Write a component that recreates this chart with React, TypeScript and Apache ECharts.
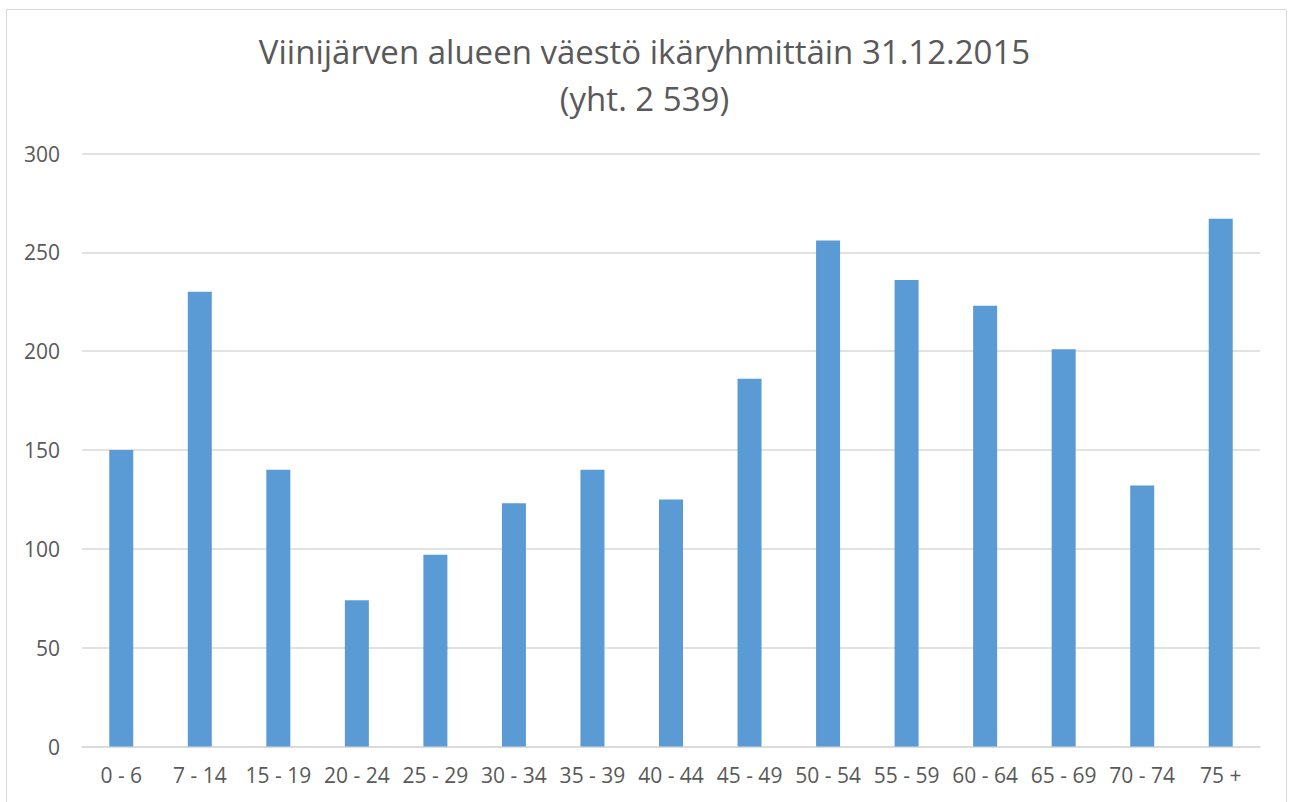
import React, { useEffect, useRef } from "react";
import * as echarts from "echarts";

const categories = ["0 - 6", "7 - 14", "15 - 19", "20 - 24", "25 - 29", "30 - 34", "35 - 39", "40 - 44", "45 - 49", "50 - 54", "55 - 59", "60 - 64", "65 - 69", "70 - 74", "75 +"];
const values = [150, 230, 140, 74, 97, 123, 140, 125, 186, 256, 236, 223, 201, 132, 267];
const titleText = "Viinijärven alueen väestö ikäryhmittäin 31.12.2015\n(yht. 2 539)";
const yMin = 0;
const yMax = 300;
const yStep = 50;

export default function App() {
  const ref = useRef<HTMLDivElement>(null);
  useEffect(() => {
    if (!ref.current) return;
    const chart = echarts.init(ref.current, undefined, { renderer: "svg" });
    chart.setOption({
      animation: false,
      backgroundColor: "#ffffff",
      title: {
        text: titleText,
        left: "center",
        top: 23,
        textStyle: {
          fontFamily: "Open Sans",
          fontSize: 33,
          fontWeight: 400,
          color: "#595959",
          lineHeight: 47,
        },
      },
      graphic: [
        {
          type: "rect",
          shape: { x: 6.5, y: 9.5, width: 1280, height: 800 },
          style: { fill: "none", stroke: "#d9d9d9", lineWidth: 1 },
          silent: true,
        },
      ],
      grid: { left: 82, right: 29, top: 153.5, bottom: 55.5, containLabel: false },
      xAxis: {
        type: "category",
        data: categories,
        axisLine: { show: true, lineStyle: { color: "#d9d9d9", width: 1.5 } },
        axisTick: { show: false },
        axisLabel: {
          color: "#595959",
          fontFamily: "Open Sans",
          fontSize: 21,
          margin: 18,
          interval: 0,
        },
      },
      yAxis: {
        type: "value",
        min: yMin,
        max: yMax,
        interval: yStep,
        axisLine: { show: false },
        axisTick: { show: false },
        splitLine: { lineStyle: { color: "#d9d9d9", width: 1.5 } },
        axisLabel: {
          color: "#595959",
          fontFamily: "Open Sans",
          fontSize: 21,
          margin: 22,
        },
      },
      series: [
        {
          type: "bar",
          data: values,
          barWidth: 24,
          itemStyle: { color: "#5b9bd5" },
        },
      ],
    });
    return () => chart.dispose();
  }, []);
  return (
    <div
      ref={ref}
      style={{ position: "absolute", left: 0, top: 0, width: 1289, height: 802 }}
    />
  );
}
